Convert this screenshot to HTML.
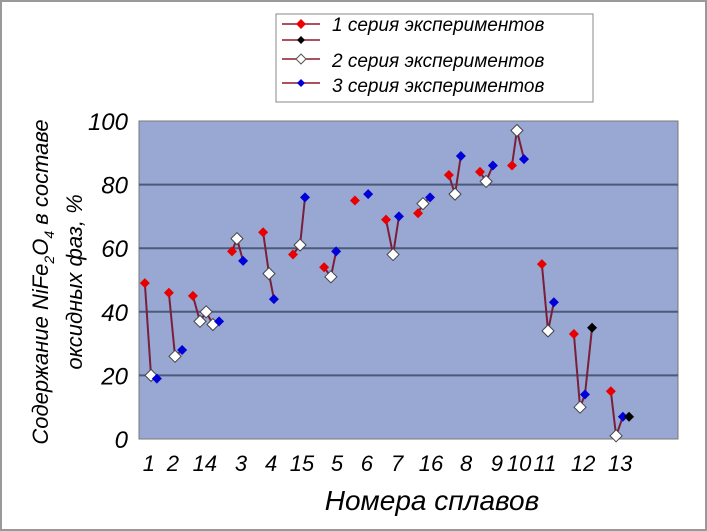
<!DOCTYPE html>
<html><head><meta charset="utf-8">
<style>
body{margin:0;background:#fff;}
svg{display:block;font-family:"Liberation Sans","DejaVu Sans",sans-serif;}
</style></head><body>
<svg id="chart" width="707" height="531" viewBox="0 0 707 531">
<rect x="1" y="1" width="705" height="529" fill="#fff" stroke="#999" stroke-width="2"/>
<rect x="139" y="121" width="539" height="318" fill="#98a8d3" stroke="#777"/>
<g id="grid"></g><g id="yticks"></g><g id="xticks"></g><g id="lines"></g><g id="marks"></g>
<text x="432" y="510" font-size="28" font-style="italic" text-anchor="middle">Номера сплавов</text>
<text transform="translate(48,282) rotate(-90)" font-size="22" font-style="italic" text-anchor="middle">Содержание NiFe<tspan font-size="14" dy="6">2</tspan><tspan dy="-6">O</tspan><tspan font-size="14" dy="6">4</tspan><tspan dy="-6"> в составе</tspan></text>
<text transform="translate(82,282) rotate(-90)" font-size="22" font-style="italic" text-anchor="middle">оксидных фаз, %</text>
<g>
<rect x="276" y="14" width="317" height="88" fill="#fff" stroke="#888"/>
<g><line x1="282" y1="24" x2="320" y2="24" stroke="#8b1a2a" stroke-width="1.5"/><path d="M301,19 L306,24 L301,29 L296,24Z" fill="#e00"/><text x="332" y="31" font-size="19" font-style="italic">1 серия  экспериментов</text></g>
<g><line x1="282" y1="40" x2="320" y2="40" stroke="#8b1a2a" stroke-width="1.5"/><path d="M301,36 L305,40 L301,44 L297,40Z" fill="#000"/></g>
<g><line x1="282" y1="59" x2="320" y2="59" stroke="#8b1a2a" stroke-width="1.5"/><path d="M301,54 L306,59 L301,64 L296,59Z" fill="#fff" stroke="#555"/><text x="332" y="67" font-size="19" font-style="italic">2 серия  экспериментов</text></g>
<g><line x1="282" y1="83" x2="320" y2="83" stroke="#8b1a2a" stroke-width="1.5"/><path d="M301,79 L305,83 L301,87 L297,83Z" fill="#00d"/><text x="332" y="92" font-size="19" font-style="italic">3 серия  экспериментов</text></g>
</g>
</svg>
<script>
const yTicks=[0,20,40,60,80,100];
const categories=["1","2","14","3","4","15","5","6","7","16","8","9","10","11","12","13"];
const categoryPos=[0.32,1.10,2.14,3.31,4.29,5.29,6.43,7.40,8.38,9.48,10.62,11.62,12.34,13.18,14.42,15.62];
const groupX=[[0.19,0.39,0.58],[0.97,1.17,1.40],[1.75,1.98,2.18,2.40,2.60],[3.02,3.18,3.38],[4.03,4.22,4.38],[5.00,5.23,5.39],[6.01,6.23,6.40],[7.01,7.44],[8.02,8.25,8.44],[9.06,9.22,9.45],[10.06,10.26,10.45],[11.07,11.27,11.49],[12.11,12.27,12.50],[13.08,13.28,13.47],[14.12,14.32,14.48,14.71],[15.32,15.49,15.71,15.91]];
const groupY=[[49,20,19],[46,26,28],[45,37,40,36,37],[59,63,56],[65,52,44],[58,61,76],[54,51,59],[75,77],[69,58,70],[71,74,76],[83,77,89],[84,81,86],[86,97,88],[55,34,43],[33,10,14,35],[15,1,7,7]];
const groupType=[["r","w","b"],["r","w","b"],["r","w","w","w","b"],["r","w","b"],["r","w","b"],["r","w","b"],["r","w","b"],["r","b"],["r","w","b"],["r","w","b"],["r","w","b"],["r","w","b"],["r","w","b"],["r","w","b"],["r","w","b","k"],["r","w","b","k"]];
const groupLine=[1,1,1,1,1,1,1,0,1,1,1,1,1,1,1,1];
const L=139,R=678,T=121,B=439;
const xS=v=>L+v/17.5*(R-L);
const yS=v=>B-v/100*(B-T);
const NS="http://www.w3.org/2000/svg";
function mk(tag,attrs,parent){const e=document.createElementNS(NS,tag);for(const k in attrs)e.setAttribute(k,attrs[k]);document.getElementById(parent).appendChild(e);return e;}
yTicks.forEach(t=>{
  if(t>0&&t<100){const g=mk("line",{x1:L,x2:R,y1:yS(t),y2:yS(t),stroke:"#4a5a7a","stroke-width":2},"grid");
  
  }
  const tx=mk("text",{x:128,y:yS(t)+9,"font-size":24,"font-style":"italic","text-anchor":"end"},"yticks");
  tx.textContent=t;
  
  
});
categories.forEach((c,i)=>{
  const tx=mk("text",{x:xS(categoryPos[i]),y:471,"font-size":22,"font-style":"italic","text-anchor":"middle"},"xticks");
  tx.textContent=c;
  
  
});
const colors={r:"#e80000",k:"#000",w:"#fff",b:"#0000d8"};
groupX.forEach((xs,g)=>{
  if(groupLine[g]){
  const pts=xs.map((x,i)=>xS(x)+","+yS(groupY[g][i])).join(" ");
  const pl=mk("polyline",{points:pts,fill:"none",stroke:"#7a1e3a","stroke-width":2},"lines");
  
  
  }
  xs.forEach((x,i)=>{
    const t=groupType[g][i];const cx=xS(x),cy=yS(groupY[g][i]);const s=t==="w"?6:5;
    const p=mk("path",{d:`M${cx},${cy-s} L${cx+s},${cy} L${cx},${cy+s} L${cx-s},${cy}Z`,fill:colors[t],stroke:t==="w"?"#444":"none","stroke-width":1},"marks");
    
    
  });
});
</script>
</body></html>
